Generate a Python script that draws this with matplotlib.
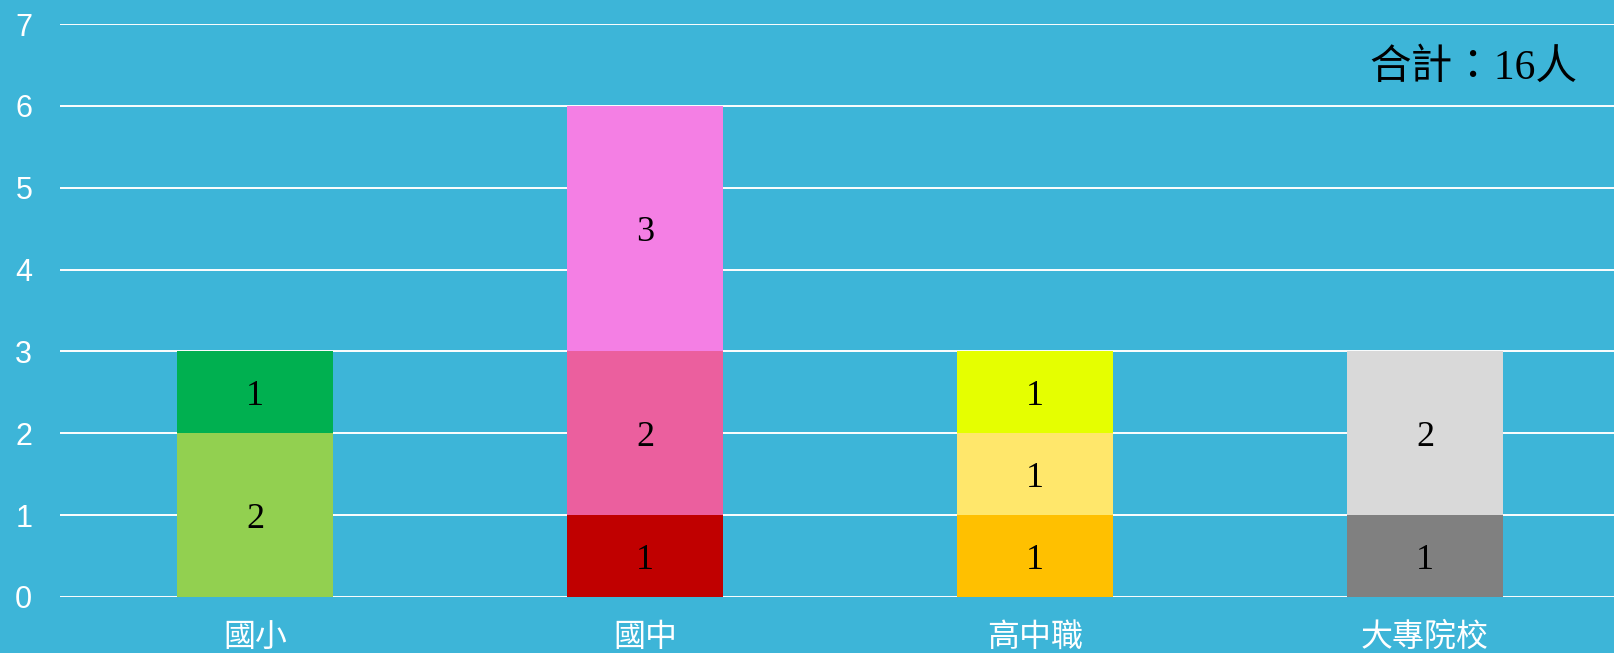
import matplotlib
matplotlib.use("Agg")
import matplotlib.pyplot as plt

# categories and the stacked segments of each bar (bottom -> top)
categories = ["國小", "國中", "高中職", "大專院校"]
segments = [
    [2, 1],
    [1, 2, 3],
    [1, 1, 1],
    [1, 2],
]
seg_colors = [
    ["#92D050", "#00B050"],
    ["#C00000", "#EB5F9E", "#F47FE4"],
    ["#FFC000", "#FFE76B", "#E5FF00"],
    ["#808080", "#D9D9D9"],
]
total_text = "合計：16人"

bg = "#3DB5D8"

fig = plt.figure(figsize=(16.14, 6.53), dpi=100, facecolor=bg)
ax = fig.add_axes([0.0372, 0.0858, 0.9665, 0.8774])
ax.set_facecolor(bg)

for i, (vals, cols) in enumerate(zip(segments, seg_colors)):
    bottom = 0
    for v, c in zip(vals, cols):
        ax.bar(i, v, bottom=bottom, width=0.4, color=c, zorder=3)
        ax.text(i, bottom + v / 2, str(v), ha="center", va="center_baseline",
                fontsize=26, color="black", family="Liberation Serif", zorder=4)
        bottom += v

ax.set_xlim(-0.5, len(categories) - 0.5)
ax.set_ylim(0, 7)
ax.set_yticks(range(0, 8))
ax.yaxis.grid(True, color="white", linewidth=1.4, zorder=0)
ax.set_axisbelow(True)
for s in ax.spines.values():
    s.set_visible(False)

ax.tick_params(axis="y", length=0, pad=20, labelsize=22, labelcolor="white")
for lab in ax.get_yticklabels():
    lab.set_family("Liberation Sans")

ax.set_xticks(range(len(categories)))
ax.set_xticklabels(categories, family=["Noto Sans CJK TC", "DejaVu Sans"],
                   fontsize=23, color="white", fontweight="light")
ax.tick_params(axis="x", length=0, pad=17)

fig.text(0.977, 0.895, total_text, ha="right", va="center", fontsize=30,
         color="black", family=["Liberation Serif", "Noto Sans CJK TC"])

fig.savefig("out.png", dpi=100, facecolor=bg)
